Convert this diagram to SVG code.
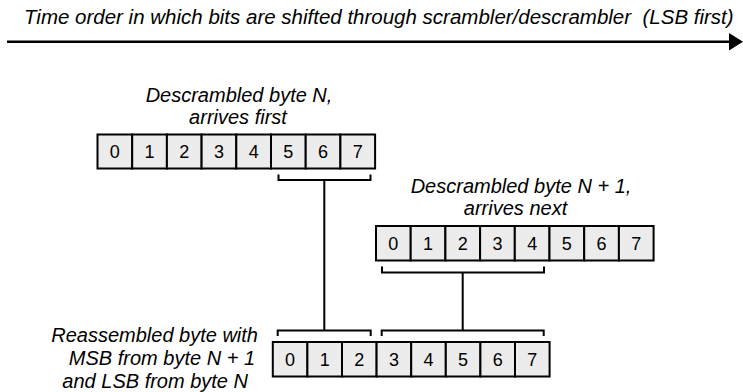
<svg xmlns="http://www.w3.org/2000/svg" width="743" height="392" viewBox="0 0 743 392">
<style>
  text { font-family: "Liberation Sans", Arial, sans-serif; fill: #000; }
  .lbl { font-size: 20px; font-style: italic; }
  .ttl { font-size: 20.5px; font-style: italic; white-space: pre; }
  .dig { font-size: 18px; text-anchor: middle; }
  .cell { fill: #ececec; stroke: #000; stroke-width: 2; }
  .br { fill: none; stroke: #000; stroke-width: 2; }
</style>
<rect width="743" height="392" fill="#fff"/>
<g id="title">
  <text class="ttl" x="24" y="24" xml:space="preserve">Time order in which bits are shifted through scrambler/descrambler  (LSB first)</text>
  <line x1="7" y1="41.7" x2="731" y2="41.7" stroke="#000" stroke-width="2.5"/>
  <polygon points="729,33 743,41.7 729,50.4" fill="#000"/>
</g>
<g id="byteN">
  <text class="lbl" x="239" y="102" text-anchor="middle">Descrambled byte N,</text>
  <text class="lbl" x="238" y="123.5" text-anchor="middle">arrives first</text>
  <g transform="translate(97.5,134.5)">
    <rect class="cell" x="0" y="0" width="34.7" height="34"/>
    <rect class="cell" x="34.7" y="0" width="34.7" height="34"/>
    <rect class="cell" x="69.4" y="0" width="34.7" height="34"/>
    <rect class="cell" x="104.1" y="0" width="34.7" height="34"/>
    <rect class="cell" x="138.8" y="0" width="34.7" height="34"/>
    <rect class="cell" x="173.5" y="0" width="34.7" height="34"/>
    <rect class="cell" x="208.2" y="0" width="34.7" height="34"/>
    <rect class="cell" x="242.9" y="0" width="34.7" height="34"/>
    <text class="dig" x="17.35" y="23.5">0</text>
    <text class="dig" x="52.05" y="23.5">1</text>
    <text class="dig" x="86.75" y="23.5">2</text>
    <text class="dig" x="121.45" y="23.5">3</text>
    <text class="dig" x="156.15" y="23.5">4</text>
    <text class="dig" x="190.85" y="23.5">5</text>
    <text class="dig" x="225.55" y="23.5">6</text>
    <text class="dig" x="260.25" y="23.5">7</text>
  </g>
</g>
<g id="byteN1">
  <text class="lbl" x="521" y="192.5" text-anchor="middle">Descrambled byte N + 1,</text>
  <text class="lbl" x="515.5" y="215" text-anchor="middle">arrives next</text>
  <g transform="translate(376,226)">
    <rect class="cell" x="0" y="0" width="34.7" height="34.5"/>
    <rect class="cell" x="34.7" y="0" width="34.7" height="34.5"/>
    <rect class="cell" x="69.4" y="0" width="34.7" height="34.5"/>
    <rect class="cell" x="104.1" y="0" width="34.7" height="34.5"/>
    <rect class="cell" x="138.8" y="0" width="34.7" height="34.5"/>
    <rect class="cell" x="173.5" y="0" width="34.7" height="34.5"/>
    <rect class="cell" x="208.2" y="0" width="34.7" height="34.5"/>
    <rect class="cell" x="242.9" y="0" width="34.7" height="34.5"/>
    <text class="dig" x="17.35" y="23.5">0</text>
    <text class="dig" x="52.05" y="23.5">1</text>
    <text class="dig" x="86.75" y="23.5">2</text>
    <text class="dig" x="121.45" y="23.5">3</text>
    <text class="dig" x="156.15" y="23.5">4</text>
    <text class="dig" x="190.85" y="23.5">5</text>
    <text class="dig" x="225.55" y="23.5">6</text>
    <text class="dig" x="260.25" y="23.5">7</text>
  </g>
</g>
<g id="reassembled">
  <text class="lbl" x="258" y="342" text-anchor="end">Reassembled byte with</text>
  <text class="lbl" x="255" y="365" text-anchor="end">MSB from byte N + 1</text>
  <text class="lbl" x="248" y="388" text-anchor="end">and LSB from byte N</text>
  <g transform="translate(272.8,342)">
    <rect class="cell" x="0" y="0" width="34.6" height="34.5"/>
    <rect class="cell" x="34.6" y="0" width="34.6" height="34.5"/>
    <rect class="cell" x="69.2" y="0" width="34.6" height="34.5"/>
    <rect class="cell" x="103.8" y="0" width="34.6" height="34.5"/>
    <rect class="cell" x="138.4" y="0" width="34.6" height="34.5"/>
    <rect class="cell" x="173" y="0" width="34.6" height="34.5"/>
    <rect class="cell" x="207.6" y="0" width="34.6" height="34.5"/>
    <rect class="cell" x="242.2" y="0" width="34.6" height="34.5"/>
    <text class="dig" x="17.3" y="23.5">0</text>
    <text class="dig" x="51.9" y="23.5">1</text>
    <text class="dig" x="86.5" y="23.5">2</text>
    <text class="dig" x="121.1" y="23.5">3</text>
    <text class="dig" x="155.7" y="23.5">4</text>
    <text class="dig" x="190.3" y="23.5">5</text>
    <text class="dig" x="224.9" y="23.5">6</text>
    <text class="dig" x="259.5" y="23.5">7</text>
  </g>
</g>
<g id="connectors">
  <path class="br" d="M278.5,174.5 V180 H370.5 V174.5"/>
  <path class="br" d="M382,266.5 V272.5 H544 V266.5"/>
  <path class="br" d="M277.7,336 V330.5 H370.7 V336"/>
  <path class="br" d="M381.7,336 V330.5 H543.7 V336"/>
  <line class="br" x1="324.3" y1="180" x2="324.3" y2="330.5"/>
  <line class="br" x1="462.7" y1="272.5" x2="462.7" y2="330.5"/>
</g>
</svg>
